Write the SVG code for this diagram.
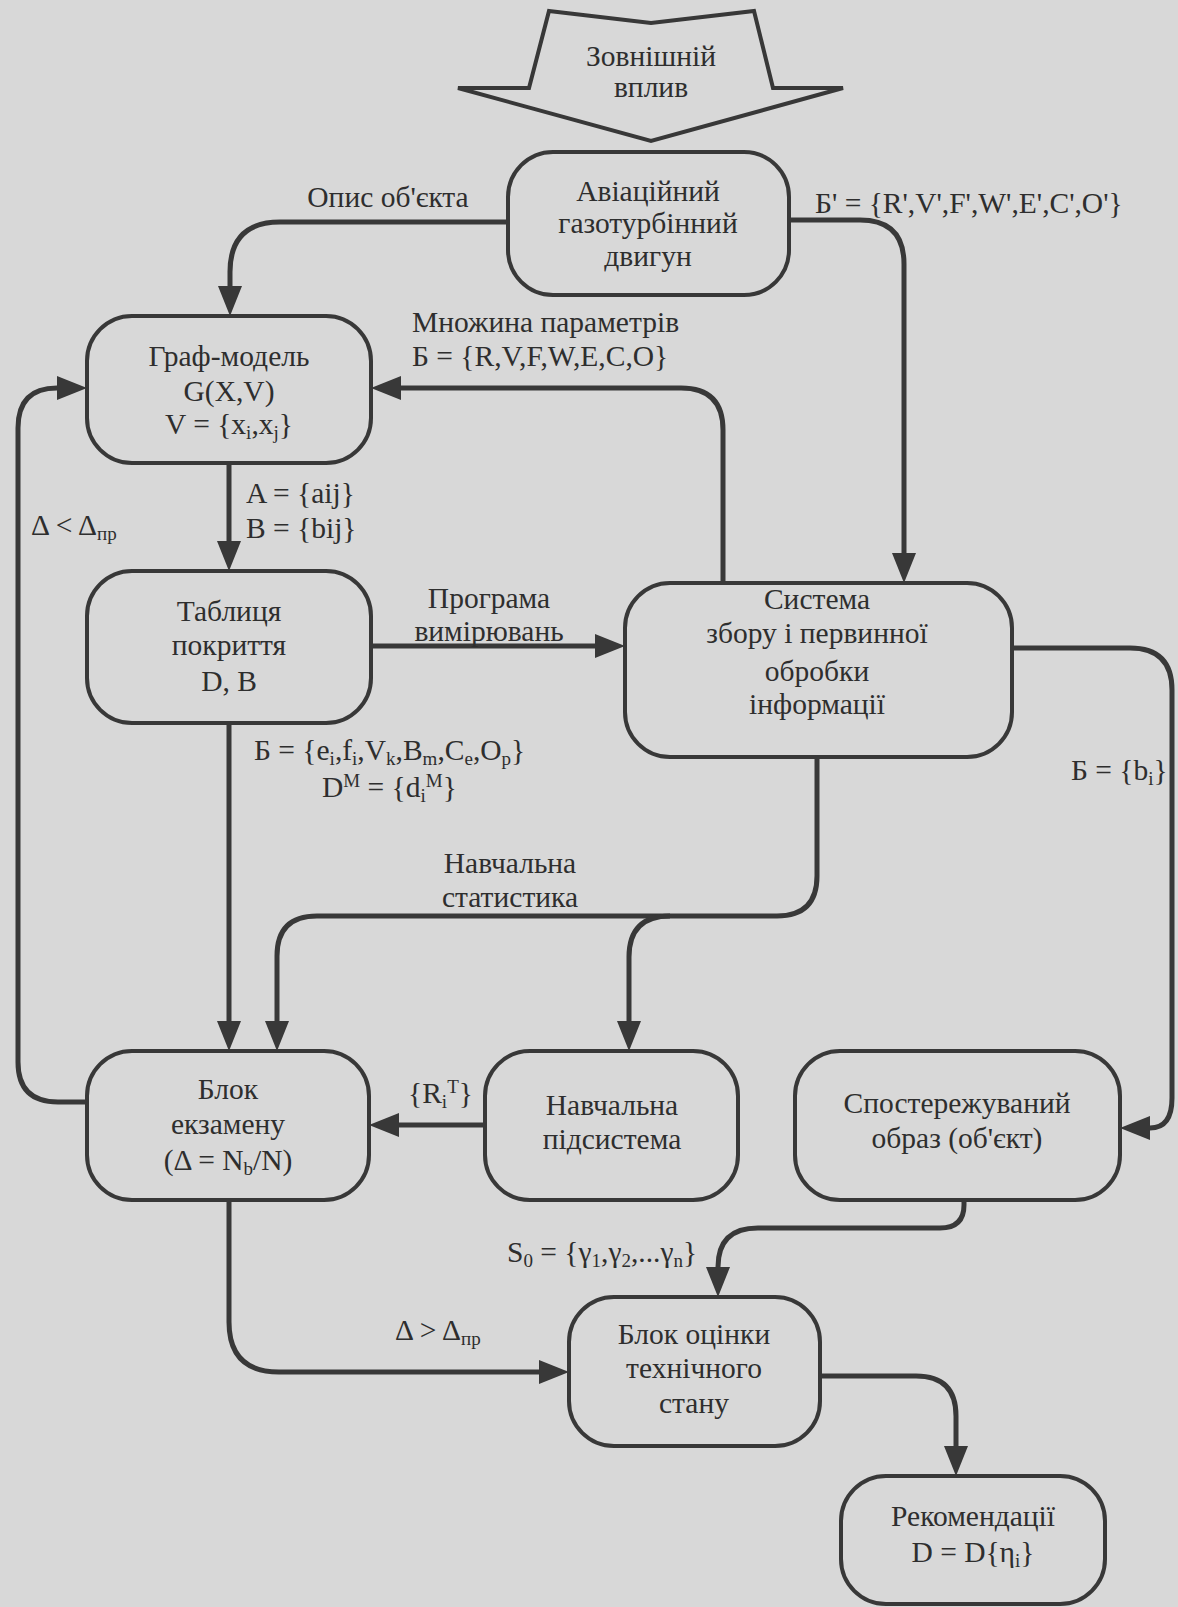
<svg xmlns="http://www.w3.org/2000/svg" width="1178" height="1607" viewBox="0 0 1178 1607">
<style>
.bg{fill:#d8d8d8}
.box{fill:none;stroke:#383838;stroke-width:4}
.ln{fill:none;stroke:#383838;stroke-width:5}
text{font-family:"Liberation Serif","Times New Roman",serif;font-size:29.5px;fill:#2e2e2e}
.c{text-anchor:middle}
.s{font-size:19px}
</style>
<defs>
<marker id="ah" viewBox="0 0 30 24" refX="0" refY="12" markerWidth="30" markerHeight="24" markerUnits="userSpaceOnUse" orient="auto">
<path d="M0,0 L30,12 L0,24 z" fill="#383838"/>
</marker>
</defs>
<rect class="bg" x="0" y="0" width="1178" height="1607"/>

<g id="connectors">
<path class="ln" marker-end="url(#ah)" d="M508 222 H280 Q230 222 230 272 V286"/>
<path class="ln" marker-end="url(#ah)" d="M789 220 H860 Q904 220 904 264 V553"/>
<path class="ln" marker-end="url(#ah)" d="M723 583 V430 Q723 388 681 388 H401"/>
<path class="ln" marker-end="url(#ah)" d="M87 1102 H58 Q18 1102 18 1062 V428 Q18 388 57 388"/>
<path class="ln" marker-end="url(#ah)" d="M229 463 V541"/>
<path class="ln" marker-end="url(#ah)" d="M371 646 H595"/>
<path class="ln" marker-end="url(#ah)" d="M1012 648 H1130 Q1172 648 1172 690 V1098 Q1172 1128 1150 1128"/>
<path class="ln" marker-end="url(#ah)" d="M229 723 V1021"/>
<path class="ln" marker-end="url(#ah)" d="M817 757 V876 Q817 916 777 916 H317 Q277 916 277 956 V1021"/>
<path class="ln" marker-end="url(#ah)" d="M670 916 Q629 916 629 957 V1021"/>
<path class="ln" marker-end="url(#ah)" d="M485 1125 H399"/>
<path class="ln" marker-end="url(#ah)" d="M964 1200 V1205 Q964 1228 940 1228 H758 Q718 1228 718 1267"/>
<path class="ln" marker-end="url(#ah)" d="M229 1200 V1322 Q229 1372 279 1372 H539"/>
<path class="ln" marker-end="url(#ah)" d="M820 1376 H916 Q956 1376 956 1416 V1446"/>
<text class="c" x="388" y="207">Опис об'єкта</text>
<text x="815" y="213">Б' = {R',V',F',W',E',C',O'}</text>
<text x="412" y="332">Множина параметрів</text>
<text x="412" y="366">Б = {R,V,F,W,E,C,O}</text>
<text x="31" y="535">Δ &lt; Δ<tspan class="s" dy="5">пр</tspan></text>
<text x="246" y="503">A = {aij}</text>
<text x="246" y="538">B = {bij}</text>
<text class="c" x="489" y="608">Програма</text>
<text class="c" x="489" y="641">вимірювань</text>
<text x="254" y="760">Б = {e<tspan class="s" dy="5">i</tspan><tspan dy="-5">,f</tspan><tspan class="s" dy="5">i</tspan><tspan dy="-5">,V</tspan><tspan class="s" dy="5">k</tspan><tspan dy="-5">,B</tspan><tspan class="s" dy="5">m</tspan><tspan dy="-5">,C</tspan><tspan class="s" dy="5">e</tspan><tspan dy="-5">,O</tspan><tspan class="s" dy="5">p</tspan><tspan dy="-5">}</tspan></text>
<text x="322" y="797">D<tspan class="s" dy="-10">M</tspan><tspan dy="10"> = {d</tspan><tspan class="s" dy="5">i</tspan><tspan class="s" dy="-15">M</tspan><tspan dy="10">}</tspan></text>
<text x="1071" y="780">Б = {b<tspan class="s" dy="5">i</tspan><tspan dy="-5">}</tspan></text>
<text class="c" x="510" y="873">Навчальна</text>
<text class="c" x="510" y="907">статистика</text>
<text x="408" y="1103">{R<tspan class="s" dy="5">i</tspan><tspan class="s" dy="-15">T</tspan><tspan dy="10">}</tspan></text>
<text x="507" y="1262">S<tspan class="s" dy="5">0</tspan><tspan dy="-5"> = {γ</tspan><tspan class="s" dy="5">1</tspan><tspan dy="-5">,γ</tspan><tspan class="s" dy="5">2</tspan><tspan dy="-5">,...γ</tspan><tspan class="s" dy="5">n</tspan><tspan dy="-5">}</tspan></text>
<text x="395" y="1340">Δ &gt; Δ<tspan class="s" dy="5">пр</tspan></text>
</g>

<g id="zovnishniy">
<path class="box" d="M549 11 L651 23 L754 11 L773 88 L843 88 L651 141 L458 88 L529 88 Z"/>
<text class="c" x="651" y="66">Зовнішній</text>
<text class="c" x="651" y="97">вплив</text>
</g>

<g id="engine">
<rect class="box" x="508" y="152" width="281" height="143" rx="45"/>
<text class="c" x="648" y="201">Авіаційний</text>
<text class="c" x="648" y="233">газотурбінний</text>
<text class="c" x="648" y="266">двигун</text>
</g>

<g id="graph">
<rect class="box" x="87" y="316" width="284" height="147" rx="45"/>
<text class="c" x="229" y="366">Граф-модель</text>
<text class="c" x="229" y="401">G(X,V)</text>
<text class="c" x="229" y="434">V = {x<tspan class="s" dy="5">i</tspan><tspan dy="-5">,x</tspan><tspan class="s" dy="5">j</tspan><tspan dy="-5">}</tspan></text>
</g>

<g id="table">
<rect class="box" x="87" y="571" width="284" height="152" rx="45"/>
<text class="c" x="229" y="621">Таблиця</text>
<text class="c" x="229" y="655">покриття</text>
<text class="c" x="229" y="691">D, B</text>
</g>

<g id="system">
<rect class="box" x="625" y="583" width="387" height="174" rx="45"/>
<text class="c" x="817" y="609">Система</text>
<text class="c" x="817" y="643">збору і первинної</text>
<text class="c" x="817" y="681">обробки</text>
<text class="c" x="817" y="714">інформації</text>
</g>

<g id="exam">
<rect class="box" x="87" y="1051" width="282" height="149" rx="45"/>
<text class="c" x="228" y="1099">Блок</text>
<text class="c" x="228" y="1134">екзамену</text>
<text class="c" x="228" y="1170">(Δ = N<tspan class="s" dy="5">b</tspan><tspan dy="-5">/N)</tspan></text>
</g>

<g id="training">
<rect class="box" x="485" y="1051" width="253" height="149" rx="45"/>
<text class="c" x="612" y="1115">Навчальна</text>
<text class="c" x="612" y="1149">підсистема</text>
</g>

<g id="observed">
<rect class="box" x="795" y="1051" width="325" height="149" rx="45"/>
<text class="c" x="957" y="1113">Спостережуваний</text>
<text class="c" x="957" y="1148">образ (об'єкт)</text>
</g>

<g id="assessment">
<rect class="box" x="569" y="1297" width="251" height="149" rx="45"/>
<text class="c" x="694" y="1344">Блок оцінки</text>
<text class="c" x="694" y="1378">технічного</text>
<text class="c" x="694" y="1413">стану</text>
</g>

<g id="recommend">
<rect class="box" x="841" y="1476" width="264" height="128" rx="45"/>
<text class="c" x="973" y="1526">Рекомендації</text>
<text class="c" x="973" y="1562">D = D{η<tspan class="s" dy="5">i</tspan><tspan dy="-5">}</tspan></text>
</g>
</svg>
